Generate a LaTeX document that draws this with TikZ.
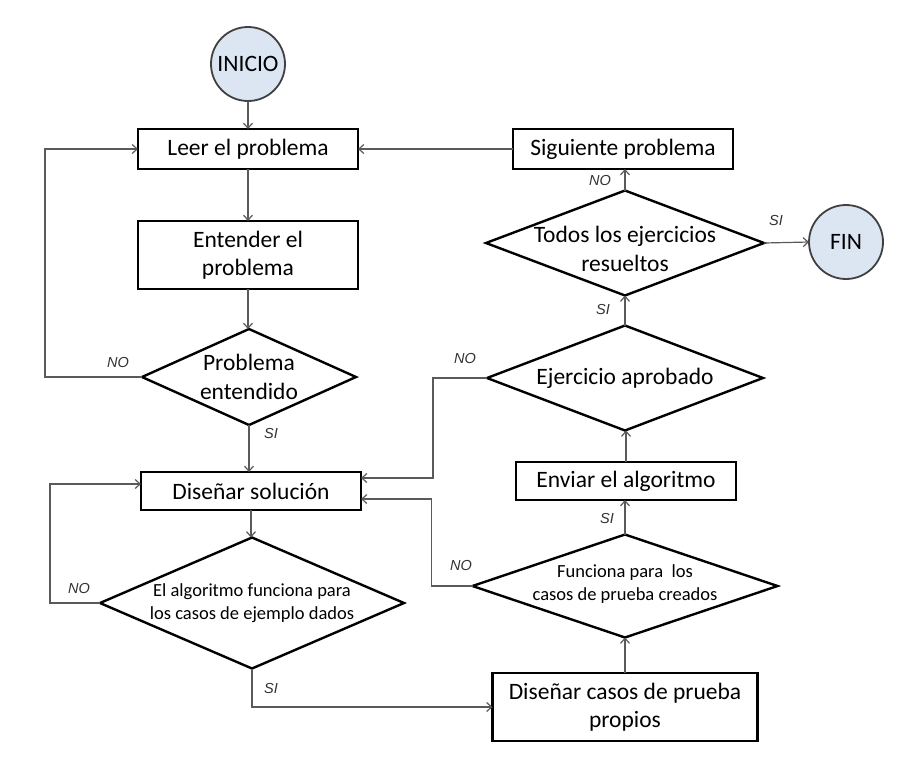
\documentclass[tikz,border=0pt]{standalone}
\usepackage{fontspec}
\setmainfont{Carlito}
\newfontfamily\lblfont{Liberation Sans}
\usetikzlibrary{shapes.geometric,arrows.meta}
\definecolor{termfill}{HTML}{DCE6F2}
\definecolor{connc}{HTML}{5A5A5A}
\definecolor{lblc}{HTML}{333333}
\begin{document}
\begin{tikzpicture}[x=1pt,y=-1pt,
  box/.style={draw=black, line width=2.4pt, rectangle, minimum width=220pt, minimum height=40pt, inner sep=0pt, outer sep=0pt, align=center, font=\fontsize{23.5}{28.5}\selectfont},
  dia/.style={draw=black, line width=2.4pt, diamond, inner sep=0pt, outer sep=0pt},
  dtext/.style={align=center, font=\fontsize{23.5}{28.5}\selectfont},
  stext/.style={align=center, font=\fontsize{18.5}{23}\selectfont},
  term/.style={circle, draw=black!75, fill=termfill, line width=1.8pt, minimum size=74pt, inner sep=0pt, outer sep=0pt, font=\fontsize{23.5}{28}\selectfont},
  conn/.style={draw=connc, line width=1.2pt, -{Straight Barb[length=5pt,width=9pt]}},
  lbl/.style={font=\lblfont\itshape\fontsize{14.5}{16}\selectfont, text=lblc, inner sep=0pt}
]
\fill[white] (0,0) rectangle (904,761);
\useasboundingbox (0,0) rectangle (904,761);

% nodes
\node[term] (ini) at (248,64) {INICIO};
\node[box] (leer) at (248,149) {Leer el problema};
\node[box, minimum height=68pt] (ent) at (248,255) {Entender el\\problema};
\node[dia, minimum width=214pt, minimum height=96pt,
  label={[dtext]center:Problema\\entendido}] (pe) at (249,377) {};
\node[box, minimum height=38pt] (dis) at (251,491) {Diseñar solución};
\node[dia, minimum width=304pt, minimum height=131pt,
  label={[stext]center:El algoritmo funciona para\\los casos de ejemplo dados}] (alg) at (252,603) {};
\node[box, minimum width=265pt, minimum height=68pt] (dcp) at (625,707) {Diseñar casos de prueba\\propios};
\node[dia, minimum width=305pt, minimum height=103pt,
  label={[stext, yshift=2pt]center:Funciona para\ \ los\\casos de prueba creados}] (fu) at (625,586) {};
\node[box, minimum height=38pt] (env) at (626,481) {Enviar el algoritmo};
\node[dia, minimum width=276pt, minimum height=105pt,
  label={[dtext]center:Ejercicio aprobado}] (ea) at (625,378) {};
\node[dia, minimum width=278pt, minimum height=105pt,
  label={[dtext, yshift=-6pt]center:Todos los ejercicios\\resueltos}] (todos) at (625,243) {};
\node[box] (sig) at (623,149) {Siguiente problema};
\node[term] (fin) at (846,242) {FIN};

% connectors
\draw[conn] (ini) -- (leer);
\draw[conn] (leer) -- (ent);
\draw[conn] (ent.south) -- (ent.south |- pe.north);
\draw[conn] (pe.west) -- ++(-97,0) |- (leer.west);
\draw[conn] (pe.south) -- (pe.south |- dis.north);
\draw[conn] (dis.south) -- (dis.south |- alg.north);
\draw[conn] (alg.west) -- ++(-50,0) |- ([yshift=7pt]dis.west);
\draw[conn] (alg.south) |- (dcp.west);
\draw[conn] (dcp.north) -- (dcp.north |- fu.south);
\draw[conn] (fu.west) -- ++(-41,0) |- ([yshift=-8pt]dis.east);
\draw[conn] (fu.north) -- (fu.north |- env.south);
\draw[conn] (env.north) -- (env.north |- ea.south);
\draw[conn] (ea.west) -- ++(-54,0) |- ([yshift=13pt]dis.east);
\draw[conn] (ea.north) -- (todos.south);
\draw[conn] (todos.east) -- (fin.west);
\draw[conn] (todos.north) -- (todos.north |- sig.south);
\draw[conn] (sig.west) -- (leer.east);

% labels
\node[lbl] (l1) at (118,362) {NO};
\node[lbl] (l2) at (271,433) {SI};
\node[lbl] (l3) at (79,588) {NO};
\node[lbl] (l4) at (271,688) {SI};
\node[lbl] (l5) at (461,565) {NO};
\node[lbl] (l6) at (607,518) {SI};
\node[lbl] (l7) at (465,358) {NO};
\node[lbl] (l8) at (603,310) {SI};
\node[lbl] (l9) at (776,221) {SI};
\node[lbl] (l10) at (600,181) {NO};
\end{tikzpicture}
\end{document}
